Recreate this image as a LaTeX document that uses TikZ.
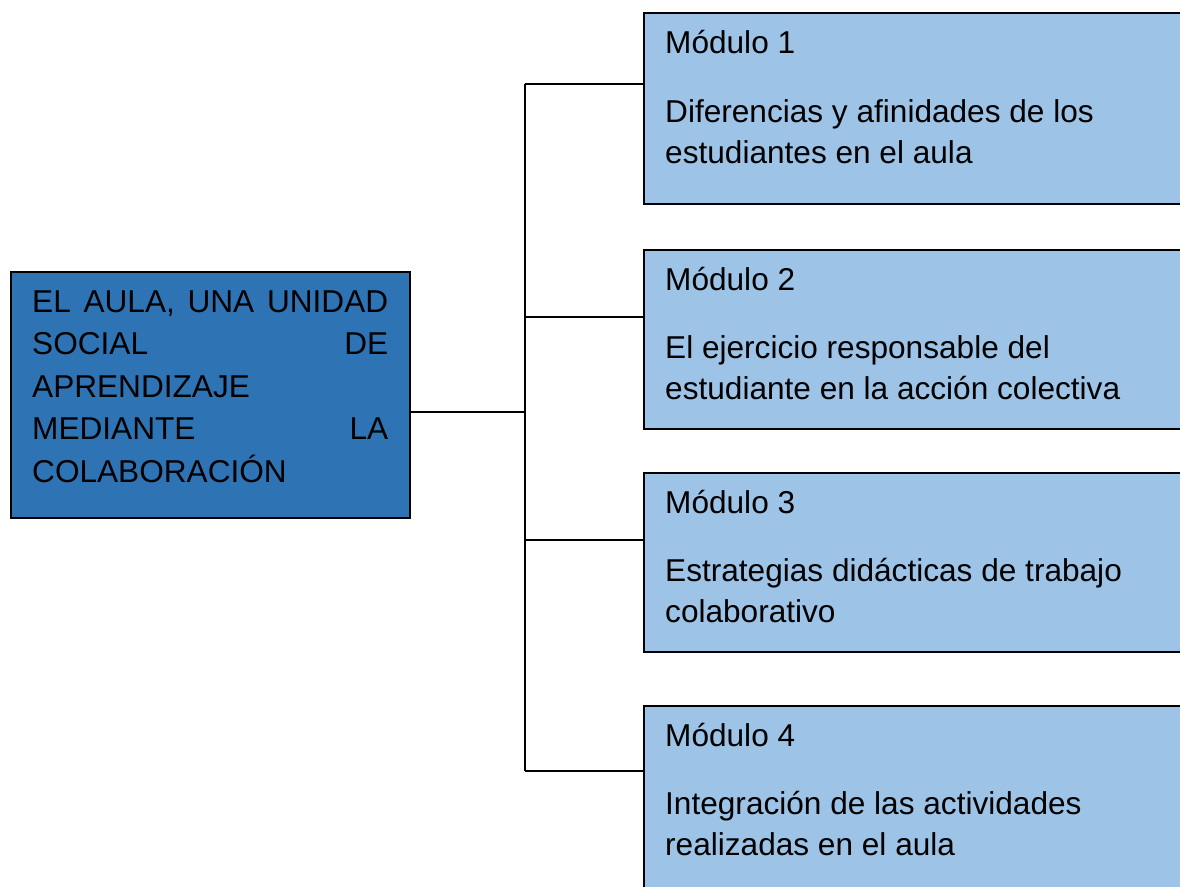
\documentclass[tikz,border=0pt]{standalone}
\usepackage{fontspec}
\setmainfont{Liberation Sans}
\definecolor{darkbox}{HTML}{2E74B5}
\definecolor{lightbox}{HTML}{9DC3E6}
\tikzset{
  mainbox/.style={draw=black, line width=1.5pt, fill=darkbox, rectangle, inner sep=0pt, anchor=north west},
  modbox/.style={draw=black, line width=1.5pt, fill=lightbox, rectangle, inner sep=0pt, anchor=north west},
  txt/.style={inner sep=0pt, anchor=base west, font=\fontsize{31.6}{38}\selectfont, text=black},
  conn/.style={draw=black, line width=1.5pt}
}
\begin{document}
\begin{tikzpicture}[x=1pt,y=-1pt]
\useasboundingbox (0,0) rectangle (1180,886);
\clip (0,0) rectangle (1180,886);
% main box
\node[mainbox, minimum width=399pt, minimum height=246pt] (c) at (10,271) {};
\node[txt] (c1) at (32,312) {\makebox[356pt][s]{EL AULA, UNA UNIDAD}};
\node[txt] (c2) at (32,354.5) {\makebox[356pt][s]{SOCIAL\hfill DE}};
\node[txt] (c3) at (32,397) {APRENDIZAJE};
\node[txt] (c4) at (32,439.5) {\makebox[356pt][s]{MEDIANTE\hfill LA}};
\node[txt] (c5) at (32,482) {COLABORACIÓN};
% module boxes
\node[modbox, minimum width=600pt, minimum height=191pt] (m1) at (643,12) {};
\node[modbox, minimum width=600pt, minimum height=179pt] (m2) at (643,249) {};
\node[modbox, minimum width=600pt, minimum height=179pt] (m3) at (643,472) {};
\node[modbox, minimum width=600pt, minimum height=250pt] (m4) at (643,705) {};
% module texts
\node[txt] (t1a) at (665,53) {Módulo 1};
\node[txt] (t1b) at (665,122) {Diferencias y afinidades de los};
\node[txt] (t1c) at (665,163.5) {estudiantes en el aula};
\node[txt] (t2a) at (665,290) {Módulo 2};
\node[txt] (t2b) at (665,358) {El ejercicio responsable del};
\node[txt] (t2c) at (665,399.5) {estudiante en la acción colectiva};
\node[txt] (t3a) at (665,513) {Módulo 3};
\node[txt] (t3b) at (665,581) {Estrategias didácticas de trabajo};
\node[txt] (t3c) at (665,622.5) {colaborativo};
\node[txt] (t4a) at (665,746) {Módulo 4};
\node[txt] (t4b) at (665,814) {Integración de las actividades};
\node[txt] (t4c) at (665,855.5) {realizadas en el aula};
% connectors
\coordinate (j0) at (525,412);
\coordinate (j1) at (525,84);
\coordinate (j2) at (525,317);
\coordinate (j3) at (525,540);
\coordinate (j4) at (525,771);
\draw[conn] (c.east |- j0) -- (j0);
\draw[conn] (j1) -- (j4);
\draw[conn] (j1) -- (m1.west |- j1);
\draw[conn] (j2) -- (m2.west |- j2);
\draw[conn] (j3) -- (m3.west |- j3);
\draw[conn] (j4) -- (m4.west |- j4);
\end{tikzpicture}
\end{document}
